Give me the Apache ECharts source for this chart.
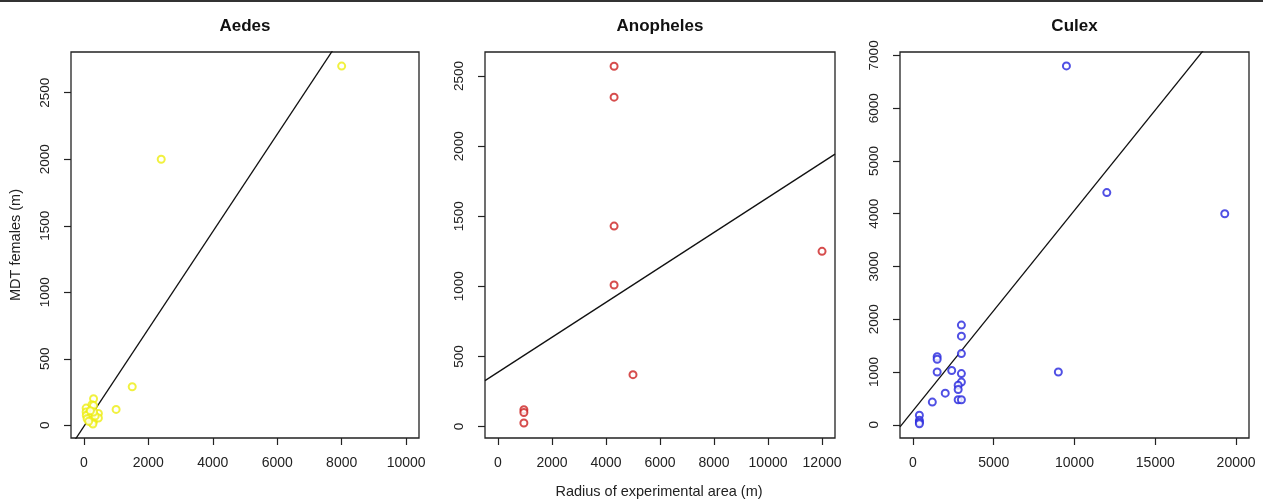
<!DOCTYPE html>
<html><head><meta charset="utf-8">
<script src="https://cdn.jsdelivr.net/npm/echarts@6/dist/echarts.min.js"></script>
<style>html,body{margin:0;padding:0;background:#fff}#c{width:1263px;height:499px;border-top:2px solid #333;box-sizing:border-box}</style>
</head><body><div id="c"></div>
<script>
// ---- data ----
const panelTitles = ['Aedes', 'Anopheles', 'Culex'];
const aedesPoints = [[8000,2700],[2400,2000],[1500,290],[1000,120],[300,200],[70,130],[250,155],[300,150],[70,100],[150,90],[75,75],[200,60],[100,50],[250,40],[300,30],[250,20],[450,90],[450,55],[350,70],[300,100],[200,110],[280,10],[150,30]];
const anophelesPoints = [[4300,2570],[4300,2350],[4300,1430],[4300,1010],[5000,370],[12000,1250],[960,120],[960,100],[960,25]];
const culexPoints = [[9500,6800],[12000,4400],[19300,4000],[9000,1000],[3000,1890],[3000,1680],[3000,1350],[3000,970],[3000,810],[2800,750],[2800,670],[2800,475],[3000,475],[1500,1290],[1500,1240],[1500,1000],[2400,1030],[2000,600],[1200,430],[400,180],[400,85],[400,50],[400,20]];
// regression fits: [intercept, slope]
const fits = [[-8,0.366],[387,0.1247],[264,0.380]];
const xTicks = [[0,2000,4000,6000,8000,10000],[0,2000,4000,6000,8000,10000,12000],[0,5000,10000,15000,20000]];
const yTicks = [[0,500,1000,1500,2000,2500],[0,500,1000,1500,2000,2500],[0,1000,2000,3000,4000,5000,6000,7000]];
const xRanges = [[-400,10400],[-480,12480],[-800,20800]];
const yRanges = [[-95,2806],[-82,2672],[-250,7064]];
const colors = ['#eeee10','#cc2020','#2424dd'];
const pointSets = [aedesPoints, anophelesPoints, culexPoints];

const lefts = [71, 485, 900];
const widths = [348, 350, 349];
const font = 'Liberation Sans, Arial, sans-serif';
const fmt = v => String(v);
const grids = [], xAxes = [], yAxes = [], series = [], titles = [];
for (let i = 0; i < 3; i++) {
  grids.push({left: lefts[i], top: 50, width: widths[i], height: 386, show: true, borderColor: '#222', borderWidth: 1.3, backgroundColor: 'transparent'});
  xAxes.push({type: 'value', gridIndex: i, min: xRanges[i][0], max: xRanges[i][1],
    splitLine: {show: false}, axisLine: {show: false, onZero: false},
    axisTick: {show: true, inside: false, customValues: xTicks[i], length: 7, lineStyle: {color: '#222', width: 1.2}},
    axisLabel: {customValues: xTicks[i], formatter: fmt, color: '#222', fontSize: 14, fontFamily: font, margin: 18}});
  yAxes.push({type: 'value', gridIndex: i, min: yRanges[i][0], max: yRanges[i][1],
    splitLine: {show: false}, axisLine: {show: false, onZero: false},
    axisTick: {show: true, inside: false, customValues: yTicks[i], length: 7, lineStyle: {color: '#222', width: 1.2}},
    axisLabel: {customValues: yTicks[i], formatter: fmt, rotate: 90, color: '#222', fontSize: 13.5, fontFamily: font, margin: 19}});
  series.push({type: 'scatter', xAxisIndex: i, yAxisIndex: i, data: pointSets[i], symbol: 'emptyCircle', symbolSize: 7,
    itemStyle: {color: colors[i], borderColor: colors[i], borderWidth: 1.4}, silent: true, z: 3});
  const [a, b] = fits[i];
  const x0 = xRanges[i][0], x1 = xRanges[i][1];
  series.push({type: 'line', xAxisIndex: i, yAxisIndex: i, data: [[x0, a + b * x0], [x1, a + b * x1]], clip: true,
    symbol: 'none', lineStyle: {color: '#111', width: 1.3}, silent: true, z: 2});
  titles.push({text: panelTitles[i], left: lefts[i] + widths[i] / 2 - 5, top: 11, textAlign: 'center',
    textStyle: {fontSize: 17, fontWeight: 'bold', fontFamily: font, color: '#111'}});
}
const chart = echarts.init(document.getElementById('c'), null, {renderer: 'canvas'});
chart.setOption({
  animation: false,
  title: titles,
  grid: grids, xAxis: xAxes, yAxis: yAxes, series: series,
  graphic: [
    {type: 'text', x: 16, y: 243, rotation: Math.PI / 2, style: {text: 'MDT females (m)', font: '14.5px ' + font, fill: '#222', textAlign: 'center', textVerticalAlign: 'middle'}},
    {type: 'text', x: 659, y: 490, style: {text: 'Radius of experimental area (m)', font: '14.5px ' + font, fill: '#222', textAlign: 'center', textVerticalAlign: 'middle'}}
  ]
});
</script></body></html>
